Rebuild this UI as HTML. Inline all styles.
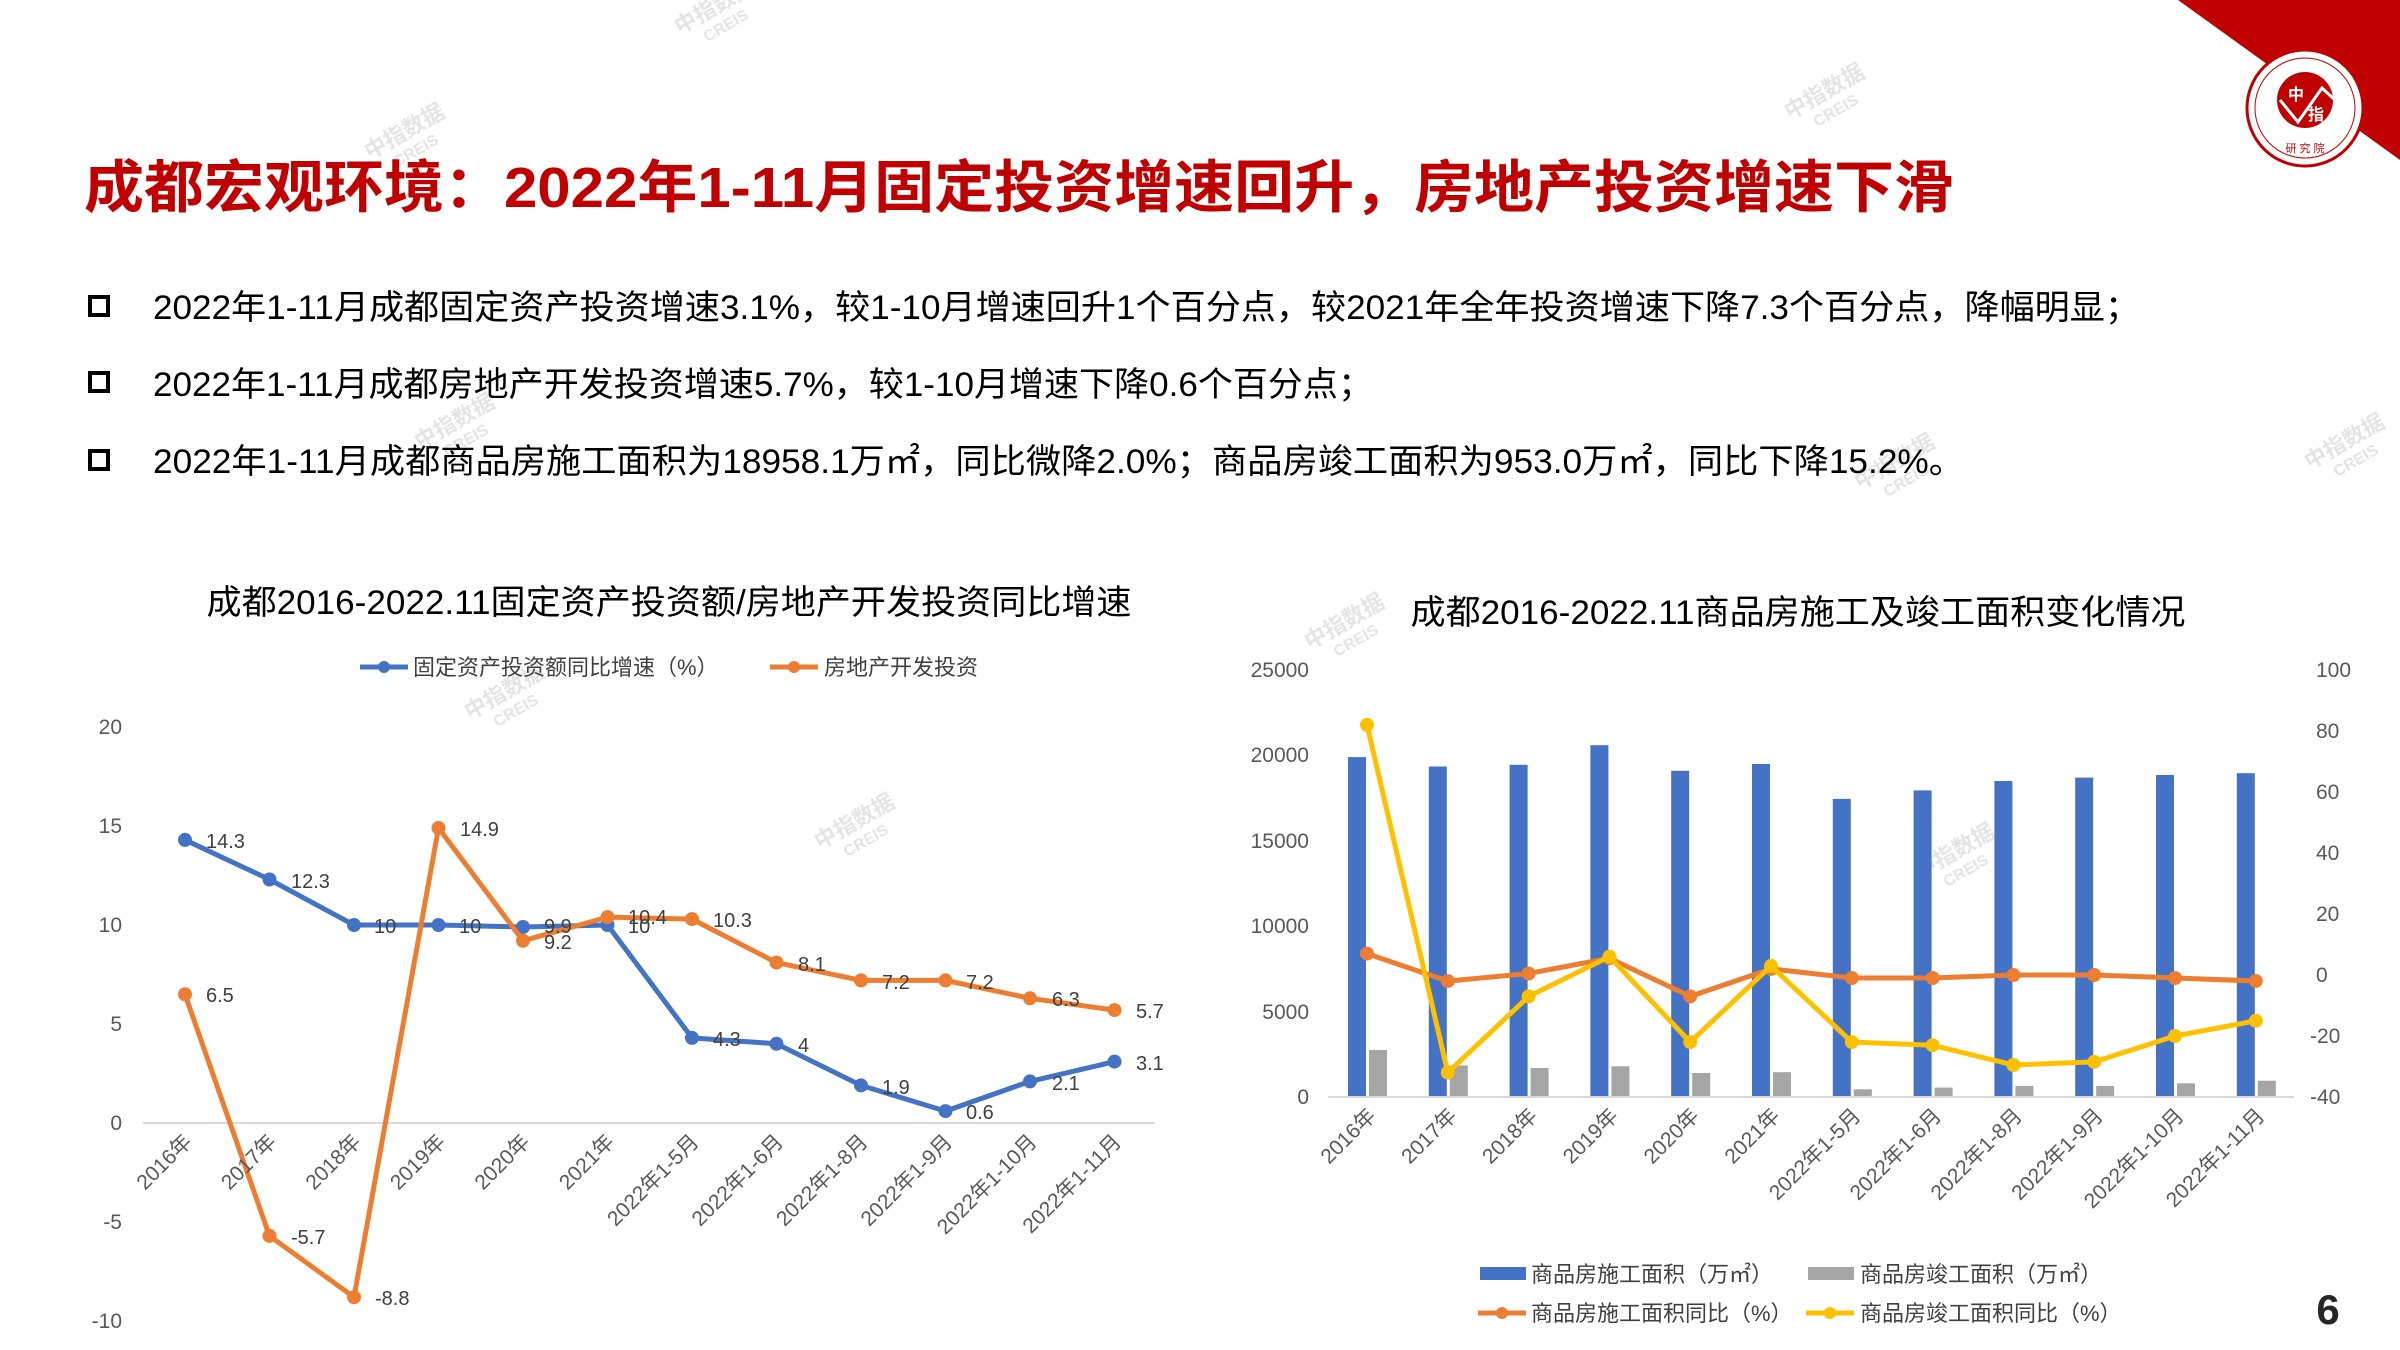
<!DOCTYPE html>
<html><head><meta charset="utf-8"><style>
html,body{margin:0;padding:0;background:#fff;}
svg{display:block;font-family:"Liberation Sans","Noto Sans CJK SC",sans-serif;}
</style></head><body>
<svg width="2400" height="1350" viewBox="0 0 2400 1350" xmlns="http://www.w3.org/2000/svg">
<rect width="2400" height="1350" fill="#fff"/>
<!-- top right decoration -->
<polygon points="2178,0 2400,0 2400,160" fill="#c00000"/>
<circle cx="2305" cy="108" r="58" fill="#fff" stroke="#c00000" stroke-width="3"/>
<circle cx="2305" cy="108" r="50" fill="none" stroke="#c00000" stroke-width="1"/>
<circle cx="2305" cy="100" r="28" fill="#c00000"/>
<polyline points="2280,100 2298,122 2322,88 2335,100" fill="none" stroke="#fff" stroke-width="3"/>
<text x="2296" y="100" font-size="16" fill="#fff" font-weight="bold" text-anchor="middle">中</text>
<text x="2316" y="120" font-size="16" fill="#fff" font-weight="bold" text-anchor="middle">指</text>
<text x="2305" y="152" font-size="11" fill="#c00000" text-anchor="middle">研 究 院</text>

<!-- watermarks -->
<g fill="#d8d8d8" font-size="22" font-weight="bold" opacity="0.7">
<text transform="translate(680,35) rotate(-30)">中指数据<tspan x="20" dy="20" font-size="16">CREIS</tspan></text>
<text transform="translate(370,160) rotate(-30)">中指数据<tspan x="20" dy="20" font-size="16">CREIS</tspan></text>
<text transform="translate(1790,120) rotate(-30)">中指数据<tspan x="20" dy="20" font-size="16">CREIS</tspan></text>
<text transform="translate(1310,650) rotate(-30)">中指数据<tspan x="20" dy="20" font-size="16">CREIS</tspan></text>
<text transform="translate(470,720) rotate(-30)">中指数据<tspan x="20" dy="20" font-size="16">CREIS</tspan></text>
<text transform="translate(820,850) rotate(-30)">中指数据<tspan x="20" dy="20" font-size="16">CREIS</tspan></text>
<text transform="translate(1920,880) rotate(-30)">中指数据<tspan x="20" dy="20" font-size="16">CREIS</tspan></text>
<text transform="translate(2310,470) rotate(-30)">中指数据<tspan x="20" dy="20" font-size="16">CREIS</tspan></text>
<text transform="translate(420,450) rotate(-30)">中指数据<tspan x="20" dy="20" font-size="16">CREIS</tspan></text>
<text transform="translate(1860,490) rotate(-30)">中指数据<tspan x="20" dy="20" font-size="16">CREIS</tspan></text>
</g>

<!-- title -->
<text x="84" y="207" font-size="57" font-weight="bold" fill="#c00000" textLength="1870" lengthAdjust="spacingAndGlyphs">成都宏观环境：2022年1-11月固定投资增速回升，房地产投资增速下滑</text>

<!-- bullets -->
<g fill="none" stroke="#000" stroke-width="4">
<rect x="90" y="297" width="18" height="18"/>
<rect x="90" y="373" width="18" height="18"/>
<rect x="90" y="451" width="18" height="18"/>
</g>
<g font-size="34" fill="#000">
<text x="153" y="319" textLength="1987" lengthAdjust="spacingAndGlyphs">2022年1-11月成都固定资产投资增速3.1%，较1-10月增速回升1个百分点，较2021年全年投资增速下降7.3个百分点，降幅明显；</text>
<text x="153" y="396" textLength="1220" lengthAdjust="spacingAndGlyphs">2022年1-11月成都房地产开发投资增速5.7%，较1-10月增速下降0.6个百分点；</text>
<text x="153" y="473" textLength="1811" lengthAdjust="spacingAndGlyphs">2022年1-11月成都商品房施工面积为18958.1万㎡，同比微降2.0%；商品房竣工面积为953.0万㎡，同比下降15.2%。</text>
</g>

<!-- LEFT CHART -->
<text x="669" y="614" font-size="34" fill="#000" text-anchor="middle" textLength="925" lengthAdjust="spacingAndGlyphs">成都2016-2022.11固定资产投资额/房地产开发投资同比增速</text>
<g font-size="22" fill="#404040">
<line x1="360" y1="667" x2="408" y2="667" stroke="#4472c4" stroke-width="5"/><circle cx="384" cy="667" r="6" fill="#4472c4"/>
<text x="413" y="675">固定资产投资额同比增速（%）</text>
<line x1="770" y1="667" x2="818" y2="667" stroke="#ed7d31" stroke-width="5"/><circle cx="794" cy="667" r="6" fill="#ed7d31"/>
<text x="824" y="675">房地产开发投资</text>
</g>
<g font-size="21" fill="#595959" text-anchor="end">
<text x="122" y="734">20</text><text x="122" y="833">15</text><text x="122" y="932">10</text>
<text x="122" y="1031">5</text><text x="122" y="1130">0</text><text x="122" y="1229">-5</text><text x="122" y="1328">-10</text>
</g>
<line x1="143" y1="1123" x2="1155" y2="1123" stroke="#d9d9d9" stroke-width="2"/>
<polyline fill="none" stroke="#4472c4" stroke-width="5" stroke-linejoin="round" points="185,839.9 269.5,879.5 354,925 438.5,925 523,927 607.5,925 692,1037.9 776.5,1043.8 861,1085.4 945.5,1111.1 1030,1081.4 1114.5,1061.6"/>
<g fill="#4472c4">
<circle cx="185" cy="839.9" r="7"/><circle cx="269.5" cy="879.5" r="7"/><circle cx="354" cy="925" r="7"/><circle cx="438.5" cy="925" r="7"/><circle cx="523" cy="927" r="7"/><circle cx="607.5" cy="925" r="7"/><circle cx="692" cy="1037.9" r="7"/><circle cx="776.5" cy="1043.8" r="7"/><circle cx="861" cy="1085.4" r="7"/><circle cx="945.5" cy="1111.1" r="7"/><circle cx="1030" cy="1081.4" r="7"/><circle cx="1114.5" cy="1061.6" r="7"/>
</g>
<polyline fill="none" stroke="#ed7d31" stroke-width="5" stroke-linejoin="round" points="185,994.3 269.5,1235.9 354,1297.2 438.5,828 523,940.8 607.5,917.1 692,919.1 776.5,962.6 861,980.4 945.5,980.4 1030,998.3 1114.5,1010.1"/>
<g fill="#ed7d31">
<circle cx="185" cy="994.3" r="7"/><circle cx="269.5" cy="1235.9" r="7"/><circle cx="354" cy="1297.2" r="7"/><circle cx="438.5" cy="828" r="7"/><circle cx="523" cy="940.8" r="7"/><circle cx="607.5" cy="917.1" r="7"/><circle cx="692" cy="919.1" r="7"/><circle cx="776.5" cy="962.6" r="7"/><circle cx="861" cy="980.4" r="7"/><circle cx="945.5" cy="980.4" r="7"/><circle cx="1030" cy="998.3" r="7"/><circle cx="1114.5" cy="1010.1" r="7"/>
</g>
<g font-size="20" fill="#404040">
<text x="206" y="848">14.3</text><text x="291" y="888">12.3</text><text x="374" y="933">10</text><text x="459" y="933">10</text>
<text x="544" y="933">9.9</text><text x="628" y="933">10</text><text x="713" y="1046">4.3</text><text x="798" y="1052">4</text>
<text x="882" y="1094">1.9</text><text x="966" y="1119">0.6</text><text x="1052" y="1090">2.1</text><text x="1136" y="1070">3.1</text>
<text x="206" y="1002">6.5</text><text x="291" y="1244">-5.7</text><text x="375" y="1305">-8.8</text><text x="460" y="836">14.9</text>
<text x="544" y="949">9.2</text><text x="628" y="924">10.4</text><text x="713" y="927">10.3</text><text x="798" y="971">8.1</text>
<text x="882" y="989">7.2</text><text x="966" y="989">7.2</text><text x="1052" y="1006">6.3</text><text x="1136" y="1018">5.7</text>
</g>
<g font-size="21" fill="#595959" text-anchor="end">
<text transform="translate(193,1143) rotate(-45)">2016年</text>
<text transform="translate(277.5,1143) rotate(-45)">2017年</text>
<text transform="translate(362,1143) rotate(-45)">2018年</text>
<text transform="translate(446.5,1143) rotate(-45)">2019年</text>
<text transform="translate(531,1143) rotate(-45)">2020年</text>
<text transform="translate(615.5,1143) rotate(-45)">2021年</text>
<text transform="translate(700,1143) rotate(-45)">2022年1-5月</text>
<text transform="translate(784.5,1143) rotate(-45)">2022年1-6月</text>
<text transform="translate(869,1143) rotate(-45)">2022年1-8月</text>
<text transform="translate(953.5,1143) rotate(-45)">2022年1-9月</text>
<text transform="translate(1038,1143) rotate(-45)">2022年1-10月</text>
<text transform="translate(1122.5,1143) rotate(-45)">2022年1-11月</text>
</g>

<!-- RIGHT CHART -->
<text x="1798" y="624" font-size="34" fill="#000" text-anchor="middle" textLength="775" lengthAdjust="spacingAndGlyphs">成都2016-2022.11商品房施工及竣工面积变化情况</text>
<g font-size="21" fill="#595959" text-anchor="end">
<text x="1309" y="677">25000</text><text x="1309" y="762">20000</text><text x="1309" y="848">15000</text>
<text x="1309" y="933">10000</text><text x="1309" y="1019">5000</text><text x="1309" y="1104">0</text>
</g>
<g font-size="21" fill="#595959">
<text x="2316" y="677">100</text><text x="2316" y="738">80</text><text x="2316" y="799">60</text><text x="2316" y="860">40</text>
<text x="2316" y="921">20</text><text x="2316" y="982">0</text><text x="2310" y="1043">-20</text><text x="2310" y="1104">-40</text>
</g>
<g fill="#4472c4">
<rect x="1348" y="757.1" width="18" height="339.9"/>
<rect x="1428.8" y="766.5" width="18" height="330.5"/>
<rect x="1509.6" y="764.8" width="18" height="332.2"/>
<rect x="1590.4" y="745.2" width="18" height="351.8"/>
<rect x="1671.2" y="770.8" width="18" height="326.2"/>
<rect x="1752" y="764" width="18" height="333"/>
<rect x="1832.8" y="798.9" width="18" height="298.1"/>
<rect x="1913.6" y="790.4" width="18" height="306.6"/>
<rect x="1994.4" y="781" width="18" height="316"/>
<rect x="2075.2" y="777.6" width="18" height="319.4"/>
<rect x="2156" y="775" width="18" height="322"/>
<rect x="2236.8" y="773.2" width="18" height="323.8"/>
</g>
<g fill="#a5a5a5">
<rect x="1369" y="1050" width="18" height="47"/>
<rect x="1449.8" y="1065.4" width="18" height="31.6"/>
<rect x="1530.6" y="1068" width="18" height="29"/>
<rect x="1611.4" y="1066.3" width="18" height="30.7"/>
<rect x="1692.2" y="1073" width="18" height="24"/>
<rect x="1773" y="1072.2" width="18" height="24.8"/>
<rect x="1853.8" y="1089.3" width="18" height="7.7"/>
<rect x="1934.6" y="1087.6" width="18" height="9.4"/>
<rect x="2015.4" y="1085.9" width="18" height="11.1"/>
<rect x="2096.2" y="1085.9" width="18" height="11.1"/>
<rect x="2177" y="1083.3" width="18" height="13.7"/>
<rect x="2257.8" y="1080.7" width="18" height="16.3"/>
</g>
<line x1="1328" y1="1097" x2="2294" y2="1097" stroke="#d9d9d9" stroke-width="2"/>
<polyline fill="none" stroke="#ed7d31" stroke-width="5" stroke-linejoin="round" points="1367,953.6 1447.8,981.1 1528.6,973.5 1609.4,958.2 1690.2,996.4 1771,968.9 1851.8,978 1932.6,978 2013.4,975 2094.2,975 2175,978 2255.8,981"/>
<g fill="#ed7d31">
<circle cx="1367" cy="953.6" r="7"/><circle cx="1447.8" cy="981.1" r="7"/><circle cx="1528.6" cy="973.5" r="7"/><circle cx="1609.4" cy="958.2" r="7"/><circle cx="1690.2" cy="996.4" r="7"/><circle cx="1771" cy="968.9" r="7"/><circle cx="1851.8" cy="978" r="7"/><circle cx="1932.6" cy="978" r="7"/><circle cx="2013.4" cy="975" r="7"/><circle cx="2094.2" cy="975" r="7"/><circle cx="2175" cy="978" r="7"/><circle cx="2255.8" cy="981" r="7"/>
</g>
<polyline fill="none" stroke="#ffc000" stroke-width="5" stroke-linejoin="round" points="1367,724.9 1447.8,1072.6 1528.6,996.4 1609.4,956.7 1690.2,1042.1 1771,965.9 1851.8,1042.1 1932.6,1045.2 2013.4,1065 2094.2,1061.9 2175,1036 2255.8,1020.8"/>
<g fill="#ffc000">
<circle cx="1367" cy="724.9" r="7"/><circle cx="1447.8" cy="1072.6" r="7"/><circle cx="1528.6" cy="996.4" r="7"/><circle cx="1609.4" cy="956.7" r="7"/><circle cx="1690.2" cy="1042.1" r="7"/><circle cx="1771" cy="965.9" r="7"/><circle cx="1851.8" cy="1042.1" r="7"/><circle cx="1932.6" cy="1045.2" r="7"/><circle cx="2013.4" cy="1065" r="7"/><circle cx="2094.2" cy="1061.9" r="7"/><circle cx="2175" cy="1036" r="7"/><circle cx="2255.8" cy="1020.8" r="7"/>
</g>
<g font-size="21" fill="#595959" text-anchor="end">
<text transform="translate(1377,1117) rotate(-45)">2016年</text>
<text transform="translate(1457.8,1117) rotate(-45)">2017年</text>
<text transform="translate(1538.6,1117) rotate(-45)">2018年</text>
<text transform="translate(1619.4,1117) rotate(-45)">2019年</text>
<text transform="translate(1700.2,1117) rotate(-45)">2020年</text>
<text transform="translate(1781,1117) rotate(-45)">2021年</text>
<text transform="translate(1861.8,1117) rotate(-45)">2022年1-5月</text>
<text transform="translate(1942.6,1117) rotate(-45)">2022年1-6月</text>
<text transform="translate(2023.4,1117) rotate(-45)">2022年1-8月</text>
<text transform="translate(2104.2,1117) rotate(-45)">2022年1-9月</text>
<text transform="translate(2185,1117) rotate(-45)">2022年1-10月</text>
<text transform="translate(2265.8,1117) rotate(-45)">2022年1-11月</text>
</g>
<g font-size="22" fill="#404040">
<rect x="1480" y="1267" width="46" height="13" fill="#4472c4"/>
<text x="1531" y="1282">商品房施工面积（万㎡）</text>
<rect x="1808" y="1267" width="46" height="13" fill="#a5a5a5"/>
<text x="1860" y="1282">商品房竣工面积（万㎡）</text>
<line x1="1478" y1="1313" x2="1526" y2="1313" stroke="#ed7d31" stroke-width="5"/><circle cx="1502" cy="1313" r="6" fill="#ed7d31"/>
<text x="1531" y="1321">商品房施工面积同比（%）</text>
<line x1="1806" y1="1313" x2="1854" y2="1313" stroke="#ffc000" stroke-width="5"/><circle cx="1830" cy="1313" r="6" fill="#ffc000"/>
<text x="1860" y="1321">商品房竣工面积同比（%）</text>
</g>
<text x="2328" y="1324" font-size="42" font-weight="bold" fill="#262626" text-anchor="middle">6</text>
</svg>
</body></html>
